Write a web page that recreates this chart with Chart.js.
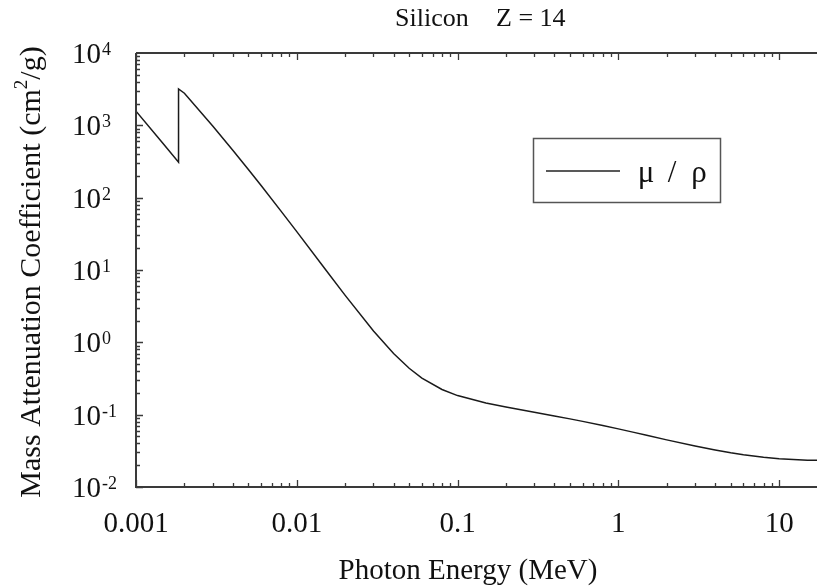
<!DOCTYPE html>
<html>
<head>
<meta charset="utf-8">
<script src="https://cdn.jsdelivr.net/npm/chart.js@4"></script>
<style>
    html, body { margin: 0; padding: 0; background: #fff; }
    #wrap { width: 817px; height: 587px; position: relative; }
</style>
</head>
<body>
<div id="wrap"><canvas id="muChart"></canvas></div>
<script>
// Silicon, photon energy (MeV) vs mass attenuation coefficient (cm2/g)
const energy = [0.001, 0.0015, 0.0018389, 0.0018389, 0.002, 0.003, 0.004, 0.005, 0.006, 0.008,
    0.01, 0.015, 0.02, 0.03, 0.04, 0.05, 0.06, 0.08, 0.1, 0.15, 0.2, 0.3, 0.4, 0.5, 0.6, 0.8,
    1, 1.25, 1.5, 2, 3, 4, 5, 6, 8, 10, 15, 20];
const muRho = [1570, 535.5, 309.2, 3192, 2777, 978.4, 452.9, 245.0, 147.0, 64.68,
    33.89, 10.34, 4.464, 1.436, 0.7012, 0.4385, 0.3207, 0.2228, 0.1835, 0.1448, 0.1275, 0.1082, 0.09614, 0.08748, 0.08077, 0.07082,
    0.06361, 0.05688, 0.05183, 0.04480, 0.03678, 0.03240, 0.02967, 0.02788, 0.02574, 0.02462, 0.02352, 0.02338];

const xTickValues = [0.001, 0.01, 0.1, 1, 10];
const xTickLabels = ['0.001', '0.01', '0.1', '1', '10'];
const yTickExponents = [-2, -1, 0, 1, 2, 3, 4];

const titleText = ['Silicon', 'Z = 14'];
const xTitle = 'Photon Energy (MeV)';
const legendParts = ['μ', '/', 'ρ'];

const AXIS = '#3a3a3a';
const TICK_FONT = '29px "Liberation Serif"';
const SUP_FONT = '18px "Liberation Serif"';
const TITLE_FONT = '30px "Liberation Serif"';

const decorations = {
    id: 'decorations',
    afterDraw(chart) {
        const ctx = chart.ctx;
        const area = chart.chartArea;
        const xs = chart.scales.x;
        const ys = chart.scales.y;
        ctx.save();

        // axis lines (bottom, left, top)
        ctx.strokeStyle = AXIS;
        ctx.lineWidth = 2;
        ctx.beginPath();
        ctx.moveTo(area.left, area.top);
        ctx.lineTo(area.left, area.bottom);
        ctx.lineTo(area.right, area.bottom);
        ctx.moveTo(area.left, area.top);
        ctx.lineTo(area.right, area.top);
        ctx.stroke();

        // ticks, pointing inward
        ctx.lineWidth = 1.3;
        ctx.beginPath();
        for (let d = -3; d <= 1; d++) {
            for (let m = 1; m <= 9; m++) {
                const v = m * Math.pow(10, d);
                if (v > xs.max) continue;
                const px = Math.round(xs.getPixelForValue(v)) + 0.5;
                const len = m === 1 ? 7 : 4;
                ctx.moveTo(px, area.bottom);
                ctx.lineTo(px, area.bottom - len);
                ctx.moveTo(px, area.top);
                ctx.lineTo(px, area.top + len);
            }
        }
        for (let d = -2; d <= 3; d++) {
            for (let m = 1; m <= 9; m++) {
                const v = m * Math.pow(10, d);
                const py = Math.round(ys.getPixelForValue(v)) + 0.5;
                const len = m === 1 ? 7 : 4;
                ctx.moveTo(area.left, py);
                ctx.lineTo(area.left + len, py);
            }
        }
        ctx.stroke();

        // y tick labels 10^n
        ctx.fillStyle = '#111';
        ctx.textAlign = 'left';
        ctx.textBaseline = 'alphabetic';
        yTickExponents.forEach(e => {
            const py = ys.getPixelForValue(Math.pow(10, e));
            ctx.font = TICK_FONT;
            ctx.fillText('10', 72, py + 10);
            const w = ctx.measureText('10').width;
            ctx.font = SUP_FONT;
            ctx.fillText(e < 0 ? '-' + Math.abs(e) : String(e), 72 + w + 1, py + 2);
        });

        // x tick labels
        ctx.font = TICK_FONT;
        ctx.textAlign = 'center';
        xTickValues.forEach((v, i) => {
            ctx.fillText(xTickLabels[i], xs.getPixelForValue(v), 532);
        });

        // title
        ctx.font = '26px "Liberation Serif"';
        ctx.textAlign = 'left';
        ctx.fillText(titleText[0], 395, 26);
        ctx.fillText(titleText[1], 496, 26);

        // x title
        ctx.font = '29px "Liberation Serif"';
        ctx.textAlign = 'center';
        ctx.fillText(xTitle, 468, 579);

        // y title, rotated, with superscript 2
        ctx.save();
        ctx.translate(40, 272);
        ctx.rotate(-Math.PI / 2);
        const p1 = 'Mass Attenuation Coefficient (cm';
        const p2 = '2';
        const p3 = '/g)';
        ctx.font = TITLE_FONT;
        const w1 = ctx.measureText(p1).width;
        const w3 = ctx.measureText(p3).width;
        ctx.font = '19px "Liberation Serif"';
        const w2 = ctx.measureText(p2).width;
        const x0 = -(w1 + w2 + w3) / 2;
        ctx.textAlign = 'left';
        ctx.font = TITLE_FONT;
        ctx.fillText(p1, x0, 0);
        ctx.font = '19px "Liberation Serif"';
        ctx.fillText(p2, x0 + w1, -13);
        ctx.font = TITLE_FONT;
        ctx.fillText(p3, x0 + w1 + w2, 0);
        ctx.restore();

        // legend box
        ctx.strokeStyle = '#555';
        ctx.lineWidth = 1.5;
        ctx.strokeRect(533.5, 138.5, 187, 64);
        ctx.strokeStyle = '#222';
        ctx.beginPath();
        ctx.moveTo(546, 171);
        ctx.lineTo(620, 171);
        ctx.stroke();
        ctx.font = '31px "Liberation Serif"';
        ctx.textAlign = 'center';
        ctx.fillText(legendParts[0], 646, 182);
        ctx.fillText(legendParts[1], 672, 182);
        ctx.fillText(legendParts[2], 699, 182);

        ctx.restore();
    }
};

const ctx = document.getElementById('muChart').getContext('2d');
new Chart(ctx, {
    type: 'line',
    data: {
        datasets: [{
            label: legendParts.join(' '),
            data: energy.map((e, i) => ({ x: e, y: muRho[i] })),
            borderColor: '#1a1a1a',
            borderWidth: 1.5,
            pointRadius: 0,
            tension: 0,
            fill: false
        }]
    },
    options: {
        responsive: true,
        maintainAspectRatio: false,
        animation: false,
        layout: { padding: { left: 136, top: 53, right: 0, bottom: 100 } },
        plugins: {
            legend: { display: false },
            title: { display: false },
            tooltip: { enabled: false }
        },
        scales: {
            x: { type: 'logarithmic', min: 0.001, max: 17.2, display: false },
            y: { type: 'logarithmic', min: 0.01, max: 10000, display: false }
        }
    },
    plugins: [decorations]
});
</script>
</body>
</html>
